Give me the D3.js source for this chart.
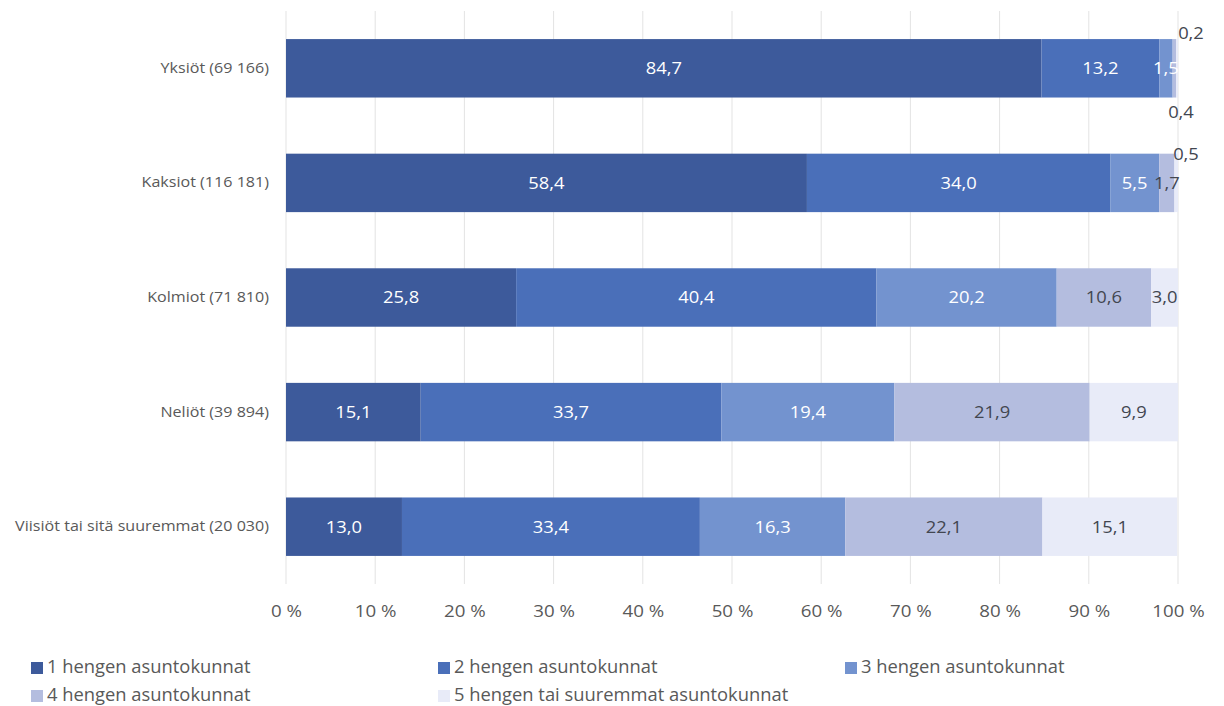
<!DOCTYPE html>
<html><head><meta charset="utf-8">
<script src="https://cdn.jsdelivr.net/npm/d3@7"></script>
<style>body{margin:0;background:#fff}svg{display:block}</style>
</head><body>
<svg id="c" width="1224" height="706"></svg>
<script>
const categories = ["Yksiöt (69 166)", "Kaksiot (116 181)", "Kolmiot (71 810)", "Neliöt (39 894)", "Viisiöt tai sitä suuremmat (20 030)"];
const seriesNames = ["1 hengen asuntokunnat", "2 hengen asuntokunnat", "3 hengen asuntokunnat", "4 hengen asuntokunnat", "5 hengen tai suuremmat asuntokunnat"];
const s1 = [84.7, 58.4, 25.8, 15.1, 13.0];
const s2 = [13.2, 34.0, 40.4, 33.7, 33.4];
const s3 = [1.5, 5.5, 20.2, 19.4, 16.3];
const s4 = [0.4, 1.7, 10.6, 21.9, 22.1];
const s5 = [0.2, 0.5, 3.0, 9.9, 15.1];
const tickValues = [0, 10, 20, 30, 40, 50, 60, 70, 80, 90, 100];
const colors = ["#3d5a9b", "#4a6fb9", "#7393cf", "#b4bddf", "#e8ebf8"];
const textColors = ["#ffffff", "#ffffff", "#ffffff", "#424650", "#424650"];

const series = [s1, s2, s3, s4, s5];
const font = "'Open Sans', sans-serif";
const svg = d3.select("#c");
const m = {left: 286, right: 1178, top: 11, bottom: 584};
const x = d3.scaleLinear().domain([0, 100]).range([m.left, m.right]);
const y = d3.scaleBand().domain(categories).range([m.top, m.bottom]).paddingInner(0.49).paddingOuter(0.245);

// gridlines
svg.append("g").selectAll("line").data(tickValues).join("line")
  .attr("x1", d => x(d)).attr("x2", d => x(d))
  .attr("y1", m.top).attr("y2", m.bottom)
  .attr("stroke", "#e3e3e3").attr("stroke-width", 1);

// x axis
const xAxis = d3.axisBottom(x).tickValues(tickValues).tickFormat(d => d + " %").tickSize(0).tickPadding(0);
const gx = svg.append("g").attr("transform", `translate(0,${m.bottom + 22})`).call(xAxis);
gx.select(".domain").remove();
gx.selectAll("text").attr("font-family", font).attr("font-size", 16).attr("fill", "#595959")
  .attr("dy", "0.71em").attr("transform", "scale(1.17,1)");

// y axis
const ySx = 1.15;
const yAxis = d3.axisLeft(y).tickSize(0).tickPadding(17);
const gy = svg.append("g").attr("transform", `translate(${m.left},0)`).call(yAxis);
gy.select(".domain").remove();
gy.selectAll("text").attr("font-family", font).attr("font-size", 14).attr("fill", "#595959")
  .attr("x", -17 / ySx).attr("transform", `scale(${ySx},1)`);

// stacked data
const rows = categories.map((c, i) => {
  const o = {cat: c};
  series.forEach((s, k) => o["s" + k] = s[i]);
  return o;
});
const keys = series.map((s, k) => "s" + k);
const stacked = d3.stack().keys(keys)(rows);

const gBars = svg.append("g");
stacked.forEach((layer, k) => {
  gBars.append("g").attr("fill", colors[k]).selectAll("rect").data(layer).join("rect")
    .attr("x", d => x(d[0]))
    .attr("width", d => Math.max(0, x(Math.min(d[1], 100)) - x(d[0])))
    .attr("y", d => y(d.data.cat))
    .attr("height", y.bandwidth());
});

// labels
const fmt = v => v.toFixed(1).replace(".", ",");
const lSx = 1.08;
const gLab = svg.append("g").attr("font-family", font).attr("font-size", 17).attr("text-anchor", "middle");
stacked.forEach((layer, k) => {
  layer.forEach((d, i) => {
    const v = d[1] - d[0];
    let cx = x((d[0] + Math.min(d[1], 100)) / 2);
    let cy = y(d.data.cat) + y.bandwidth() / 2;
    let fill = textColors[k];
    if (v < 1) {
      fill = "#424650";
      if (k === 4) { cx = x(100) + (i === 0 ? 13 : 8); cy = y(d.data.cat) + (i === 0 ? -6 : 0); }
      else { cx = x(100) + 3; cy = y(d.data.cat) + y.bandwidth() + 15; }
    }
    gLab.append("text").attr("transform", `translate(${cx},${cy}) scale(${lSx},1)`).attr("dy", "0.35em")
      .attr("fill", fill).text(fmt(v));
  });
});

// legend
const legPos = [[31, 667], [438, 667], [845, 667], [31, 695], [438, 695]];
const legSx = 1.02;
const gLeg = svg.append("g").attr("font-family", font).attr("font-size", 18).attr("fill", "#595959");
seriesNames.forEach((n, k) => {
  const [lx, ly] = legPos[k];
  gLeg.append("rect").attr("x", lx).attr("y", ly - 5).attr("width", 12).attr("height", 12).attr("fill", colors[k]);
  gLeg.append("text").attr("transform", `translate(${lx + 16},${ly}) scale(${legSx},1)`).attr("dy", "0.35em").text(n);
});
</script>
</body></html>
